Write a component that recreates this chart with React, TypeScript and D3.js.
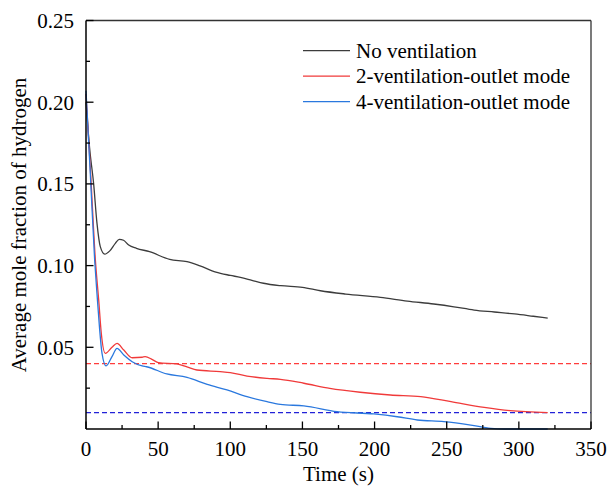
import React from "react";
import * as d3 from "d3";

const noVentT = [0, 2.5, 5.3, 7.6, 9.9, 13, 16.5, 20.3, 23.1, 26, 29.6, 35, 44, 58, 70, 79, 90, 100, 107, 115, 123, 135, 150, 162.5, 180, 204, 222.7, 241, 255, 269, 283, 297, 310, 320];
const noVentV = [0.2, 0.172, 0.15, 0.126, 0.1116, 0.107, 0.109, 0.1136, 0.1161, 0.1155, 0.1126, 0.1106, 0.1085, 0.1038, 0.1024, 0.0998, 0.096, 0.094, 0.0928, 0.091, 0.0892, 0.0877, 0.0867, 0.0846, 0.0826, 0.0806, 0.0783, 0.0765, 0.0748, 0.0728, 0.0716, 0.0704, 0.069, 0.0679];

const twoOutletT = [0, 3.3, 6.5, 8.8, 10.6, 13.4, 18, 21.5, 26.2, 32, 38.9, 41, 46, 50.2, 63, 70, 76.9, 93, 100, 111.6, 125.5, 134.7, 151, 169, 190, 211, 232, 253, 276, 294, 320];
const twoOutletV = [0.205, 0.155, 0.1034, 0.079, 0.0586, 0.0463, 0.05, 0.0524, 0.0483, 0.0436, 0.0439, 0.0443, 0.0425, 0.0406, 0.0398, 0.038, 0.0361, 0.0351, 0.0345, 0.0324, 0.031, 0.0304, 0.028, 0.0249, 0.0225, 0.0208, 0.0198, 0.0167, 0.0132, 0.0112, 0.01];

const fourOutletT = [0, 3, 6, 7.6, 9.3, 11.1, 13.9, 18, 21.5, 26.2, 32, 38.9, 42, 56, 70, 84, 97.7, 111.6, 125.5, 134.7, 151, 174, 199.5, 215.7, 229.6, 248, 266.7, 280.6, 290, 320];
const fourOutletV = [0.207, 0.156, 0.1034, 0.083, 0.0626, 0.0463, 0.0386, 0.0443, 0.0494, 0.0453, 0.0412, 0.0386, 0.0381, 0.0337, 0.0316, 0.0273, 0.0239, 0.0198, 0.0167, 0.0151, 0.0141, 0.0106, 0.0092, 0.0075, 0.0055, 0.0045, 0.0024, 0.0004, 0, 0];

const thresholds = [0.04, 0.01];
const thresholdColors = ["#ff3c3c", "#2222d8"];

const seriesNames = ["No ventilation", "2-ventilation-outlet mode", "4-ventilation-outlet mode"];
const seriesColors = ["#3c3c3c", "#f03a3a", "#2a78de"];

const xMajor = [0, 50, 100, 150, 200, 250, 300, 350];
const xMinor = [25, 75, 125, 175, 225, 275, 325];
const yMajor = [0.05, 0.1, 0.15, 0.2, 0.25];
const yMinor = [0.025, 0.075, 0.125, 0.175, 0.225];

const W = 609;
const H = 486;
const L = 86, R = 591, T = 20.5, B = 429;
const FONT = "Liberation Serif, Times New Roman, serif";
const FS = 21;
const txt = { fontFamily: FONT, fontSize: FS + "px" };

export default function App() {
  const x = d3.scaleLinear().domain([0, 350]).range([L, R]);
  const y = d3.scaleLinear().domain([0, 0.25]).range([B, T]);
  const line = d3
    .line<[number, number]>()
    .x((d) => x(d[0]))
    .y((d) => y(d[1]))
    .curve(d3.curveMonotoneX);

  const series = [
    d3.zip(noVentT, noVentV) as [number, number][],
    d3.zip(twoOutletT, twoOutletV) as [number, number][],
    d3.zip(fourOutletT, fourOutletV) as [number, number][],
  ];

  return (
    <svg width={W} height={H} style={{ position: "fixed", left: 0, top: 0, background: "#fff" }}>
      <rect x={0} y={0} width={W} height={H} fill="#fff" />
      {thresholds.map((v, i) => (
        <line
          key={"th" + i}
          x1={L}
          x2={R}
          y1={y(v)}
          y2={y(v)}
          stroke={thresholdColors[i]}
          strokeWidth={1.4}
          strokeDasharray="5,3"
        />
      ))}
      {series.map((s, i) => (
        <path key={"s" + i} d={line(s) || ""} fill="none" stroke={seriesColors[i]} strokeWidth={1.3} />
      ))}
      <line x1={L} x2={R} y1={T} y2={T} stroke="#333" strokeWidth={1.3} />
      <line x1={R} x2={R} y1={T} y2={B} stroke="#333" strokeWidth={1.3} />
      <line x1={L} x2={L} y1={T} y2={B} stroke="#000" strokeWidth={1.5} />
      <line x1={L} x2={R} y1={B} y2={B} stroke="#000" strokeWidth={1.5} />
      {xMajor.map((t) => (
        <g key={"xm" + t}>
          <line x1={x(t)} x2={x(t)} y1={B} y2={B - 7.5} stroke="#000" strokeWidth={1.3} />
          <text x={x(t)} y={456} textAnchor="middle" style={txt} fill="#000">
            {t}
          </text>
        </g>
      ))}
      {xMinor.map((t) => (
        <line key={"xn" + t} x1={x(t)} x2={x(t)} y1={B} y2={B - 4} stroke="#000" strokeWidth={1.3} />
      ))}
      {yMajor.map((t) => (
        <g key={"ym" + t}>
          <line x1={L} x2={L + 7.5} y1={y(t)} y2={y(t)} stroke="#000" strokeWidth={1.3} />
          <text x={74} y={y(t)} dy="0.35em" textAnchor="end" style={txt} fill="#000">
            {d3.format(".2f")(t)}
          </text>
        </g>
      ))}
      {yMinor.map((t) => (
        <line key={"yn" + t} x1={L} x2={L + 4} y1={y(t)} y2={y(t)} stroke="#000" strokeWidth={1.3} />
      ))}
      <text x={(L + R) / 2} y={481} textAnchor="middle" style={txt} fill="#000">
        Time (s)
      </text>
      <text
        transform={`translate(26,${(75 + 375) / 2}) rotate(-90)`}
        textAnchor="middle"
        style={txt}
        fill="#000"
      >
        Average mole fraction of hydrogen
      </text>
      {seriesNames.map((name, i) => {
        const cy = 50.7 + i * 25.5;
        return (
          <g key={"lg" + i}>
            <line x1={303} x2={350} y1={cy} y2={cy} stroke={seriesColors[i]} strokeWidth={1.3} />
            <text x={356} y={cy} dy="0.33em" style={txt} fill="#000">
              {name}
            </text>
          </g>
        );
      })}
    </svg>
  );
}
